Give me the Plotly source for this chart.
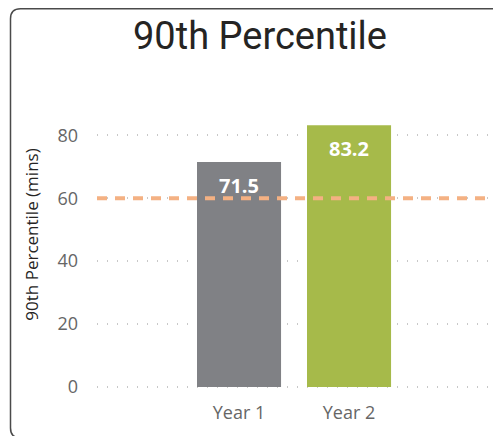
import plotly.graph_objects as go

categories = ["Year 1", "Year 2"]
values = [71.5, 83.2]
bar_colors = ["#808185", "#A6BA4A"]
target_value = 60
y_ticks = [0, 20, 40, 60, 80]
title_text = "90th Percentile"
y_title = "90th Percentile (mins)"

# page has an 8px body margin; layout below is in figure coordinates
OFF = 8
W, H = 501, 436
L, T = 97 - OFF, 80 - OFF
PR, PB = 497 - OFF, 389 - OFF
R, B = W - PR, H - PB
pw, ph = PR - L, PB - T


def px(x):
    return (x - OFF - L) / pw


def py(y):
    return (PB - (y - OFF)) / ph


fig = go.Figure()
fig.add_trace(go.Bar(
    x=categories, y=values, marker=dict(color=bar_colors, line=dict(width=0)),
    hoverinfo="skip", showlegend=False,
))

for c, v in zip(categories, values):
    fig.add_annotation(x=c, y=v, text=f"<b>{v:.1f}</b>", showarrow=False,
                       yanchor="middle", yshift=-23,
                       font=dict(family="Open Sans", size=20, color="white"))

# target line
fig.add_shape(type="line", xref="paper", yref="y", x0=0, x1=1,
              y0=target_value, y1=target_value,
              line=dict(color="#F4B183", width=4, dash="10px,8px"), layer="above")

# rounded border (screen coordinates)
x0, x1, y0, y1, r = 10.5, 503, 8.75, 438, 10
path = (f"M {px(x0)},{py(y1 - r)} L {px(x0)},{py(y0 + r)} Q {px(x0)},{py(y0)} {px(x0 + r)},{py(y0)} "
        f"L {px(x1 - r)},{py(y0)} Q {px(x1)},{py(y0)} {px(x1)},{py(y0 + r)} "
        f"L {px(x1)},{py(y1 - r)} Q {px(x1)},{py(y1)} {px(x1 - r)},{py(y1)} "
        f"L {px(x0 + r)},{py(y1)} Q {px(x0)},{py(y1)} {px(x0)},{py(y1 - r)} Z")
fig.add_shape(type="path", xref="paper", yref="paper", path=path,
              line=dict(color="#4a4a4a", width=1.5), fillcolor="rgba(0,0,0,0)", layer="above")

fig.update_layout(
    width=W, height=H, margin=dict(l=L, r=R, t=T, b=B),
    paper_bgcolor="white", plot_bgcolor="white",
    bargap=0.236,
    title=dict(text=title_text, x=(260 - OFF) / W, xanchor="center", y=1 - 28 / H, yanchor="middle",
               font=dict(family="Roboto", size=38, color="#252423")),
    xaxis=dict(range=[-1.291, 2.345], showgrid=False, zeroline=False, showline=False,
               tickfont=dict(family="Open Sans", size=18, color="#666666"),
               ticklabelstandoff=11),
    yaxis=dict(range=[-0.64, 97.6], tickvals=y_ticks, showgrid=True, gridcolor="#C8C8C8",
               gridwidth=1.5, griddash="1px,9px", zeroline=False, showline=False,
               tickfont=dict(family="Open Sans", size=18, color="#666666"),
               ticklabelstandoff=18,
               title=dict(text=y_title, standoff=14,
                          font=dict(family="Open Sans", size=17, color="#252423"))),
)

fig.write_html("out.html")
